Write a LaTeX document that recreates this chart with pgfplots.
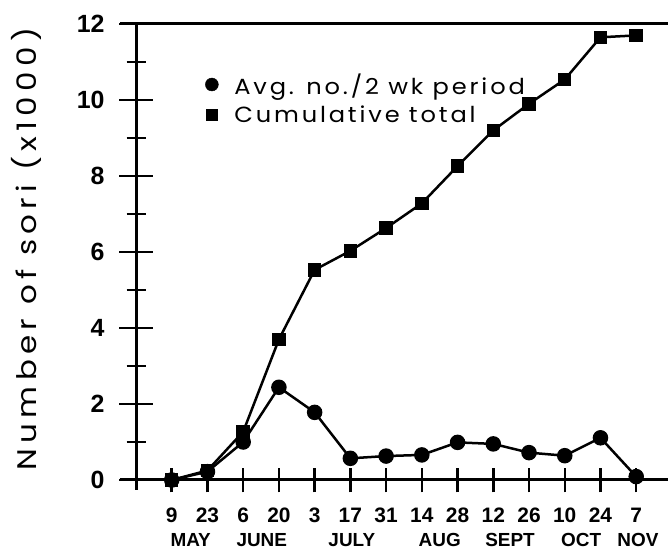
\documentclass[border=0pt]{standalone}
\usepackage{pgfplots}
\pgfplotsset{compat=1.18}
\usepackage{fontspec}
\setmainfont{Poppins}
\newfontfamily\legfont[FakeStretch=1.1, LetterSpace=13]{Poppins}
\newfontfamily\labfont[FakeStretch=1.15, LetterSpace=20]{Poppins}
\newfontfamily\tickfont{Liberation Sans}
\begin{document}
\begin{tikzpicture}[month/.style={font=\tickfont\bfseries\fontsize{19}{19}\selectfont, anchor=base, inner sep=0pt}]
\path[use as bounding box] (0bp,0bp) rectangle (668bp,551bp);
% y axis with y ticks
\begin{axis}[
  at={(136bp,71bp)}, anchor=south west,
  scale only axis, width=532bp, height=456bp,
  xmin=-1, xmax=13.89, ymin=0, ymax=12,
  clip=false,
  axis line style={draw=none},
  tick pos=left,
  ytick={0,2,...,12}, minor ytick={1,3,...,11},
  xtick=\empty,
  tick align=center,
  major tick length=34bp, minor tick length=19bp,
  tick style={line width=2.5bp, black},
  /pgf/number format/assume math mode=true,
  yticklabel style={font=\tickfont\bfseries\fontsize{25}{25}\selectfont, anchor=east, xshift=-11bp},
  legend style={at={(rel axis cs:0.130,0.892)}, anchor=north west, draw=none, fill=none,
    font=\legfont\fontsize{22}{22}\selectfont, inner sep=0pt, row sep=10bp,
    nodes={inner sep=0pt},
    /tikz/every odd column/.append style={column sep=16bp}},
  legend image code/.code={\draw[#1] plot coordinates {(0bp,0bp)};},
  legend cell align=left,
]
\draw[line width=3bp] (axis cs:-1.45,12) -- (axis cs:13.89,12);
\draw[line width=3bp] (axis cs:-1.45,0) -- (axis cs:13.89,0);
\draw[line width=3bp] (axis cs:-1,12) -- (axis cs:-1,-0.27);
\addlegendimage{only marks, mark=*, mark size=6.5bp, black}
\addlegendentry{Avg. no./2 wk period}
\addlegendimage{only marks, mark=square*, mark size=5.5bp, black}
\addlegendentry{Cumulative total}
\addplot[black, line width=2.5bp, mark=square*, mark size=5.5bp, forget plot] coordinates {
(0,0)(1,0.25)(2,1.27)(3,3.7)(4,5.53)(5,6.03)(6,6.63)(7,7.28)(8,8.26)(9,9.2)(10,9.9)(11,10.54)(12,11.65)(13,11.7)};
\addplot[black, line width=2.5bp, mark=*, mark size=6.5bp, forget plot] coordinates {
(0,0)(1,0.22)(2,1.0)(3,2.44)(4,1.78)(5,0.57)(6,0.63)(7,0.66)(8,0.99)(9,0.95)(10,0.72)(11,0.64)(12,1.11)(13,0.09)};
\end{axis}
% x axis with x ticks
\begin{axis}[
  at={(136bp,71bp)}, anchor=south west,
  scale only axis, width=532bp, height=456bp,
  xmin=-1, xmax=13.89, ymin=0, ymax=12,
  clip=false,
  axis line style={draw=none},
  tick pos=left,
  ytick=\empty,
  xtick={0,...,13},
  xticklabels={9,23,6,20,3,17,31,14,28,12,26,10,24,7},
  tick align=center,
  major tick length=25bp,
  tick style={line width=2.5bp, black},
  xticklabel style={font=\tickfont\bfseries\fontsize{21}{21}\selectfont, anchor=north, yshift=-12bp},
]
\addplot[draw=none, forget plot] coordinates {(0,0)};
\node[month] at (axis cs:0.53,-1.76) {MAY};
\node[month] at (axis cs:2.52,-1.76) {JUNE};
\node[month] at (axis cs:5.04,-1.76) {JULY};
\node[month] at (axis cs:7.5,-1.76) {AUG};
\node[month] at (axis cs:9.47,-1.76) {SEPT};
\node[month] at (axis cs:11.46,-1.76) {OCT};
\node[month] at (axis cs:13.05,-1.76) {NOV};
\end{axis}
\node[rotate=90, font=\labfont\fontsize{27}{27}\selectfont, anchor=base, inner sep=0pt] at (36bp,302bp) {Number of sori (x1000)};
\end{tikzpicture}
\end{document}
